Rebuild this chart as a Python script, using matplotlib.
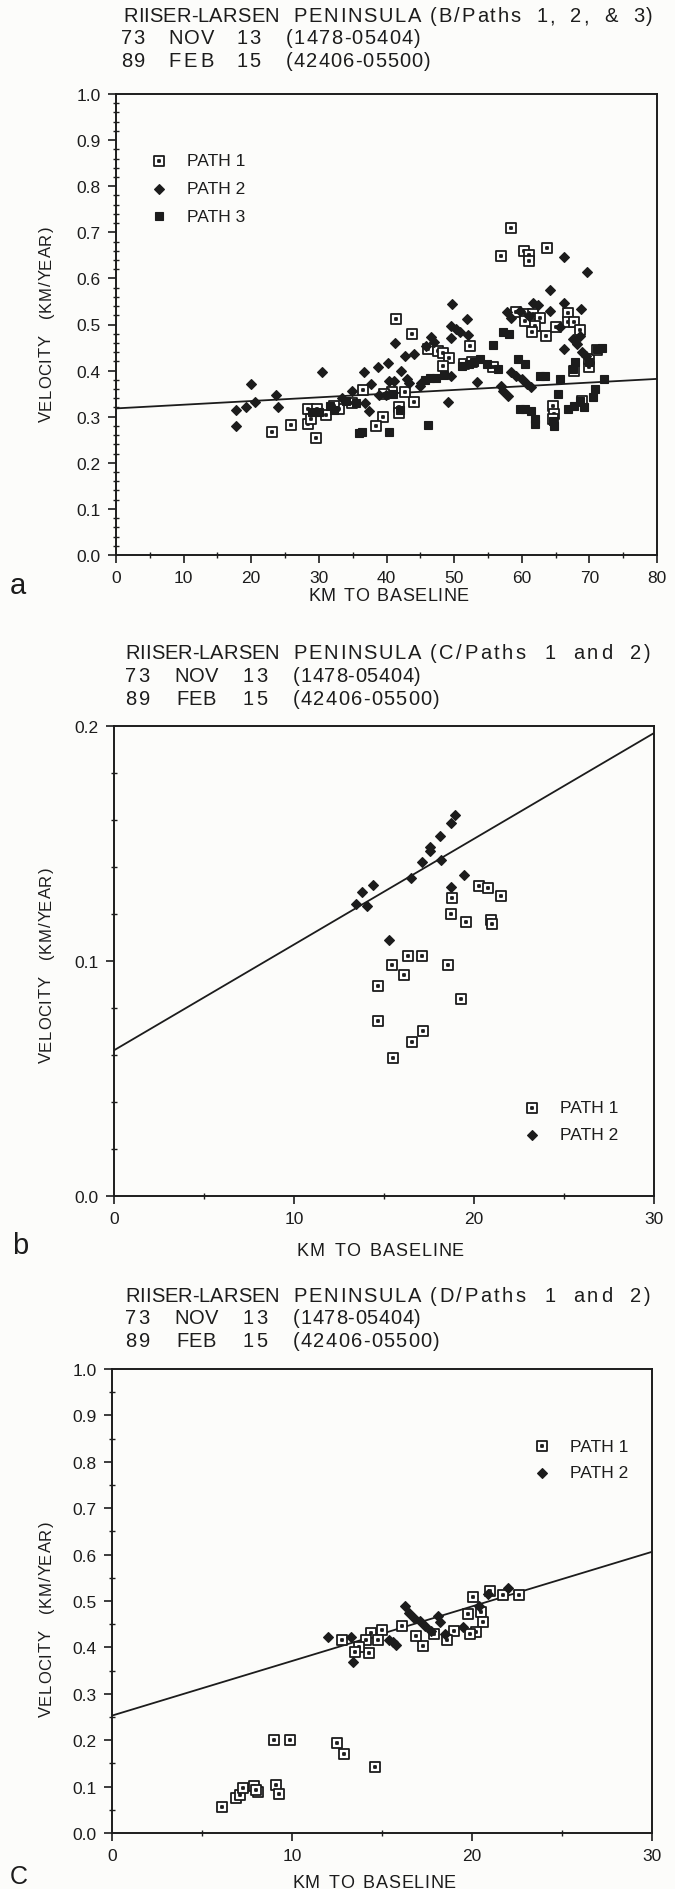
import matplotlib
matplotlib.use("Agg")
import matplotlib.pyplot as plt
from matplotlib import font_manager
from matplotlib.ft2font import FT2Font
from matplotlib.path import Path
from matplotlib.ticker import MultipleLocator, FormatStrFormatter

plt.rcParams['font.family'] = ['Liberation Sans', 'DejaVu Sans']

W, H = 675, 1890
INK = '#1c1c1c'
BG = '#fcfcfa'

# ---------------- data: panel a (B/Paths 1, 2, & 3) ----------------
a_p1_km = [58.4, 56.9, 60.4, 61.1, 61.1, 63.8, 41.4, 43.8, 52.4,
           59.2, 60.5, 61.6, 62.7, 60.5, 61.9, 61.5, 63.6, 65.0, 66.8, 66.8, 67.8, 68.6,
           46.2, 47.6, 48.4, 49.2, 48.4, 51.4, 52.7, 55.7,
           44.1, 41.9, 41.9, 39.5, 38.5, 36.5, 34.9, 33.0, 32.2, 31.1, 28.4, 29.7,
           28.4, 28.9, 25.9, 23.0, 29.6, 40.8, 42.7, 39.7,
           64.6, 64.8, 64.6, 67.8, 70.0, 70.0, 68.9, 71.1]
a_p1_v = [0.710, 0.649, 0.660, 0.651, 0.638, 0.665, 0.513, 0.479, 0.454,
          0.528, 0.523, 0.523, 0.515, 0.508, 0.497, 0.483, 0.476, 0.494, 0.526, 0.505, 0.505, 0.487,
          0.447, 0.443, 0.438, 0.427, 0.411, 0.414, 0.418, 0.407,
          0.331, 0.320, 0.309, 0.300, 0.280, 0.357, 0.330, 0.317, 0.324, 0.304, 0.317, 0.317,
          0.284, 0.295, 0.282, 0.266, 0.253, 0.353, 0.353, 0.349,
          0.324, 0.306, 0.295, 0.400, 0.407, 0.425, 0.335, 0.445]

a_p2_km = [17.7, 17.7, 19.2, 20.0, 20.5, 23.6, 23.9, 30.4, 33.4, 34.9, 36.6, 37.7, 36.8, 37.4,
           38.8, 40.2, 38.9, 39.9, 41.3, 42.2, 40.3, 41.1, 42.7, 44.1, 43.1, 43.4, 44.9, 45.1,
           49.1, 46.6, 47.0, 45.9, 49.5, 53.4, 57.0, 57.3, 58.0, 58.4, 59.2, 60.0, 60.8, 61.4,
           49.7, 49.5, 50.3, 50.8, 51.9, 52.1, 49.5, 66.2, 69.6, 64.2, 61.7, 62.4, 64.2, 66.2,
           68.7, 57.8, 58.4, 59.7, 61.1, 66.3, 67.6, 68.1, 68.6, 65.7, 68.9, 69.5]
a_p2_v = [0.280, 0.314, 0.322, 0.371, 0.331, 0.347, 0.322, 0.396, 0.340, 0.355, 0.397, 0.371, 0.330, 0.313,
          0.407, 0.416, 0.347, 0.347, 0.459, 0.400, 0.378, 0.378, 0.432, 0.436, 0.382, 0.374, 0.367, 0.374,
          0.332, 0.472, 0.461, 0.454, 0.389, 0.376, 0.367, 0.356, 0.345, 0.396, 0.389, 0.382, 0.371, 0.365,
          0.544, 0.497, 0.490, 0.483, 0.512, 0.477, 0.470, 0.647, 0.613, 0.575, 0.547, 0.542, 0.530, 0.547,
          0.534, 0.528, 0.515, 0.530, 0.519, 0.447, 0.468, 0.458, 0.476, 0.494, 0.440, 0.432]

a_p3_km = [36.0, 36.4, 40.3, 46.2, 31.6, 32.2, 29.0, 30.0, 55.8, 57.3, 58.1,
           59.7, 60.5, 61.4, 61.9, 62.0, 64.6, 64.8, 66.8, 67.8, 68.6, 69.2, 70.5, 70.8, 72.2,
           59.5, 60.5, 62.7, 63.5, 65.7, 65.3, 70.0, 71.1, 71.9, 67.6, 67.9,
           45.7, 46.5, 47.3, 48.5, 51.1, 52.2, 53.0, 53.8, 54.9, 56.5, 41.0, 42.0, 34.0, 35.5]
a_p3_v = [0.264, 0.266, 0.266, 0.282, 0.324, 0.315, 0.310, 0.310, 0.456, 0.483, 0.479,
          0.316, 0.316, 0.313, 0.296, 0.285, 0.290, 0.280, 0.316, 0.324, 0.335, 0.320, 0.342, 0.360, 0.382,
          0.425, 0.414, 0.389, 0.389, 0.382, 0.350, 0.418, 0.447, 0.450, 0.403, 0.418,
          0.380, 0.383, 0.385, 0.390, 0.410, 0.414, 0.418, 0.425, 0.414, 0.403, 0.350, 0.315, 0.335, 0.330]

a_fit_km = [0, 80]
a_fit_v = [0.318, 0.382]

# ---------------- data: panel b (C/Paths 1 and 2) ----------------
b_p1_km = [18.78, 20.3, 20.75, 21.49, 18.74, 19.55, 20.92, 21.02, 16.33, 17.11, 15.46, 18.53,
           16.09, 14.64, 19.25, 14.64, 17.19, 16.58, 15.52]
b_p1_v = [0.1268, 0.1318, 0.1310, 0.1275, 0.1200, 0.1167, 0.1176, 0.1157, 0.1023, 0.1023, 0.0984, 0.0983,
          0.0939, 0.0895, 0.0838, 0.0746, 0.0703, 0.0654, 0.0587]

b_p2_km = [13.44, 14.05, 13.75, 14.4, 15.25, 16.49, 17.13, 17.54, 17.54, 18.09, 18.14, 18.74, 18.93, 19.46, 18.7]
b_p2_v = [0.1243, 0.1232, 0.1292, 0.1324, 0.1091, 0.1354, 0.1420, 0.1469, 0.1486, 0.1533, 0.1431, 0.1587,
          0.1621, 0.1367, 0.1313]

b_fit_km = [0, 30]
b_fit_v = [0.062, 0.197]

# ---------------- data: panel c (D/Paths 1 and 2) ----------------
c_p1_km = [20.05, 21.0, 21.7, 22.6, 19.8, 20.5, 20.6, 20.2, 19.9, 19.0, 18.6, 17.9, 17.3, 16.9, 16.1,
           15.0, 14.4, 14.8, 14.1, 14.3, 13.7, 13.5, 12.8,
           6.1, 6.9, 7.1, 7.3, 7.9, 8.1, 8.0, 9.0, 9.9, 9.1, 9.3, 12.5, 12.9, 14.6]
c_p1_v = [0.509, 0.522, 0.512, 0.514, 0.472, 0.476, 0.454, 0.433, 0.429, 0.436, 0.415, 0.429, 0.404, 0.424, 0.447,
          0.438, 0.431, 0.415, 0.415, 0.388, 0.401, 0.390, 0.417,
          0.056, 0.075, 0.082, 0.097, 0.102, 0.088, 0.093, 0.201, 0.201, 0.104, 0.083, 0.195, 0.170, 0.142]

c_p2_km = [12.0, 13.3, 13.4, 15.4, 15.6, 15.8, 16.3, 16.5, 16.8, 17.1, 17.4, 17.7, 18.1, 18.2, 18.5,
           19.5, 20.4, 20.9, 22.0]
c_p2_v = [0.422, 0.422, 0.368, 0.417, 0.411, 0.405, 0.490, 0.474, 0.464, 0.457, 0.447, 0.436, 0.468, 0.454, 0.429,
          0.443, 0.490, 0.515, 0.529]

c_fit_km = [0, 30]
c_fit_v = [0.253, 0.606]

# ---------------- markers ----------------
sq = [(-1, -1), (1, -1), (1, 1), (-1, 1), (-1, -1)]
dot = [(-0.22, -0.22), (0.22, -0.22), (0.22, 0.22), (-0.22, 0.22), (-0.22, -0.22)]
codes = [Path.MOVETO, Path.LINETO, Path.LINETO, Path.LINETO, Path.CLOSEPOLY]
DOT_SQUARE = Path(sq + dot, codes * 2)

STYLE = {
    'PATH 1': dict(marker=DOT_SQUARE, ms=6.5, mfc='white', mec=INK, mew=1.3),
    'PATH 2': dict(marker='D', ms=5.2, mfc=INK, mec=INK, mew=0.8),
    'PATH 3': dict(marker='s', ms=6.3, mfc=INK, mec=INK, mew=0.8),
}

# ---------------- text helpers (the scan uses wide letter spacing) ----------------
FONT_FILE = font_manager.findfont(font_manager.FontProperties(family='Liberation Sans'))


def advances(s, size):
    f = FT2Font(FONT_FILE)
    f.set_size(size, 100)
    return [f.load_char(ord(c)).linearHoriAdvance / 65536 for c in s]


def spread(fig, start, end, y, s, size, vertical=False):
    # lay the characters of s out between start and end (pixels, along the
    # reading direction); extra room goes mostly into the spaces.
    # y is the centre line of the capitals
    adv = advances(s, size)
    weights = [4.0 if c == ' ' else 1.0 for c in s[:-1]] + [0.0]
    unit = (abs(end - start) - sum(adv[:-1]) - 0.92 * adv[-1]) / max(sum(weights), 1)
    unit = max(unit, 0.0)
    half_cap = 0.358 * size * 100 / 72
    step = -1 if vertical else 1
    pos = start
    for c, a, w in zip(s, adv, weights):
        if c != ' ':
            if vertical:
                fig.text((y + half_cap) / W, 1 - pos / H, c, fontsize=size, color=INK,
                         rotation=90, rotation_mode='anchor', ha='left', va='baseline')
            else:
                fig.text(pos / W, 1 - (y + half_cap) / H, c, fontsize=size, color=INK,
                         ha='left', va='baseline')
        pos += step * (a + unit * w)


def fig_text(fig, x, y, s, **kw):
    kw.setdefault('color', INK)
    kw.setdefault('va', 'center')
    fig.text(x / W, 1 - y / H, s, **kw)


def make_axes(fig, left, right, top, bottom):
    ax = fig.add_axes([left / W, 1 - bottom / H, (right - left) / W, (bottom - top) / H])
    ax.set_facecolor(BG)
    for sp in ax.spines.values():
        sp.set_linewidth(1.4)
        sp.set_color(INK)
    ax.tick_params(which='major', direction='out', length=6, width=1.2, colors=INK,
                   labelsize=12.5, pad=5)
    ax.tick_params(which='minor', direction='inout', length=5, width=1.0, colors=INK)
    return ax


def title_block(fig, ys, rows):
    for y, row in zip(ys, rows):
        for s, x0, x1 in row:
            spread(fig, x0, x1, y, s, 14.5)


def key(fig, x, y, name):
    st = STYLE[name]
    fig.lines.append(plt.Line2D([x / W], [1 - y / H], transform=fig.transFigure, ls='none', **st))
    fig_text(fig, x + 28, y, name, fontsize=12.5, ha='left')


def date_rows(label):
    return [[('RIISER-LARSEN', 125, 276), ('PENINSULA', 293, 420), (label, 430, 650)],
            [('73', 125, 149), ('NOV', 174, 217), ('13', 243, 267), ('(1478-05404)', 293, 420)],
            [('89', 125, 149), ('FEB', 176, 215), ('15', 243, 267), ('(42406-05500)', 293, 439)]]


fig = plt.figure(figsize=(W / 100, H / 100), dpi=100)
fig.patch.set_facecolor(BG)

# ---------------- panel a ----------------
ax = make_axes(fig, 116, 657, 95, 556)
ax.plot(a_fit_km, a_fit_v, color=INK, lw=1.3)
ax.plot(a_p1_km, a_p1_v, ls='none', **STYLE['PATH 1'])
ax.plot(a_p2_km, a_p2_v, ls='none', **STYLE['PATH 2'])
ax.plot(a_p3_km, a_p3_v, ls='none', **STYLE['PATH 3'])
ax.set_xlim(0, 80)
ax.set_ylim(0, 1.0)
ax.xaxis.set_major_locator(MultipleLocator(10))
ax.xaxis.set_minor_locator(MultipleLocator(5))
ax.yaxis.set_major_locator(MultipleLocator(0.1))
ax.yaxis.set_minor_locator(MultipleLocator(0.02))
ax.yaxis.set_major_formatter(FormatStrFormatter('%.1f'))
title_block(fig, [15, 37, 60],
            [[('RIISER-LARSEN', 123, 278), ('PENINSULA', 293, 420), ('(B/Paths 1, 2, & 3)', 430, 652)],
             [('73', 121, 144), ('NOV', 168, 213), ('13', 236, 260), ('(1478-05404)', 286, 420)],
             [('89', 121, 144), ('FEB', 168, 213), ('15', 236, 260), ('(42406-05500)', 286, 430)]])
key(fig, 159, 162, 'PATH 1')
key(fig, 159, 190, 'PATH 2')
key(fig, 159, 217, 'PATH 3')
spread(fig, 422, 227, 45, 'VELOCITY  (KM/YEAR)', 12, vertical=True)
spread(fig, 308, 468, 595, 'KM TO BASELINE', 13)
fig_text(fig, 10, 586, 'a', ha='left', fontsize=21)

# ---------------- panel b ----------------
ax = make_axes(fig, 114, 654, 727, 1197)
ax.plot(b_fit_km, b_fit_v, color=INK, lw=1.3)
ax.plot(b_p1_km, b_p1_v, ls='none', **STYLE['PATH 1'])
ax.plot(b_p2_km, b_p2_v, ls='none', **STYLE['PATH 2'])
ax.set_xlim(0, 30)
ax.set_ylim(0, 0.2)
ax.xaxis.set_major_locator(MultipleLocator(10))
ax.xaxis.set_minor_locator(MultipleLocator(5))
ax.yaxis.set_major_locator(MultipleLocator(0.1))
ax.yaxis.set_minor_locator(MultipleLocator(0.02))
ax.yaxis.set_major_formatter(FormatStrFormatter('%.1f'))
title_block(fig, [652, 675, 698], date_rows('(C/Paths 1 and 2)'))
key(fig, 532, 1109, 'PATH 1')
key(fig, 532, 1136, 'PATH 2')
spread(fig, 1063, 868, 45, 'VELOCITY  (KM/YEAR)', 12, vertical=True)
spread(fig, 297, 463, 1250, 'KM TO BASELINE', 13)
fig_text(fig, 12, 1246, 'b', ha='left', fontsize=21)

# ---------------- panel c ----------------
ax = make_axes(fig, 112, 652, 1370, 1834)
ax.plot(c_fit_km, c_fit_v, color=INK, lw=1.3)
ax.plot(c_p1_km, c_p1_v, ls='none', **STYLE['PATH 1'])
ax.plot(c_p2_km, c_p2_v, ls='none', **STYLE['PATH 2'])
ax.set_xlim(0, 30)
ax.set_ylim(0, 1.0)
ax.xaxis.set_major_locator(MultipleLocator(10))
ax.xaxis.set_minor_locator(MultipleLocator(5))
ax.yaxis.set_major_locator(MultipleLocator(0.1))
ax.yaxis.set_minor_locator(MultipleLocator(0.05))
ax.yaxis.set_major_formatter(FormatStrFormatter('%.1f'))
title_block(fig, [1295, 1317, 1340], date_rows('(D/Paths 1 and 2)'))
key(fig, 542, 1447, 'PATH 1')
key(fig, 542, 1474, 'PATH 2')
spread(fig, 1717, 1522, 45, 'VELOCITY  (KM/YEAR)', 12, vertical=True)
spread(fig, 292, 455, 1882, 'KM TO BASELINE', 13)
fig_text(fig, 10, 1877, 'C', ha='left', fontsize=18)

fig.savefig('out.png', dpi=100, facecolor=BG)
